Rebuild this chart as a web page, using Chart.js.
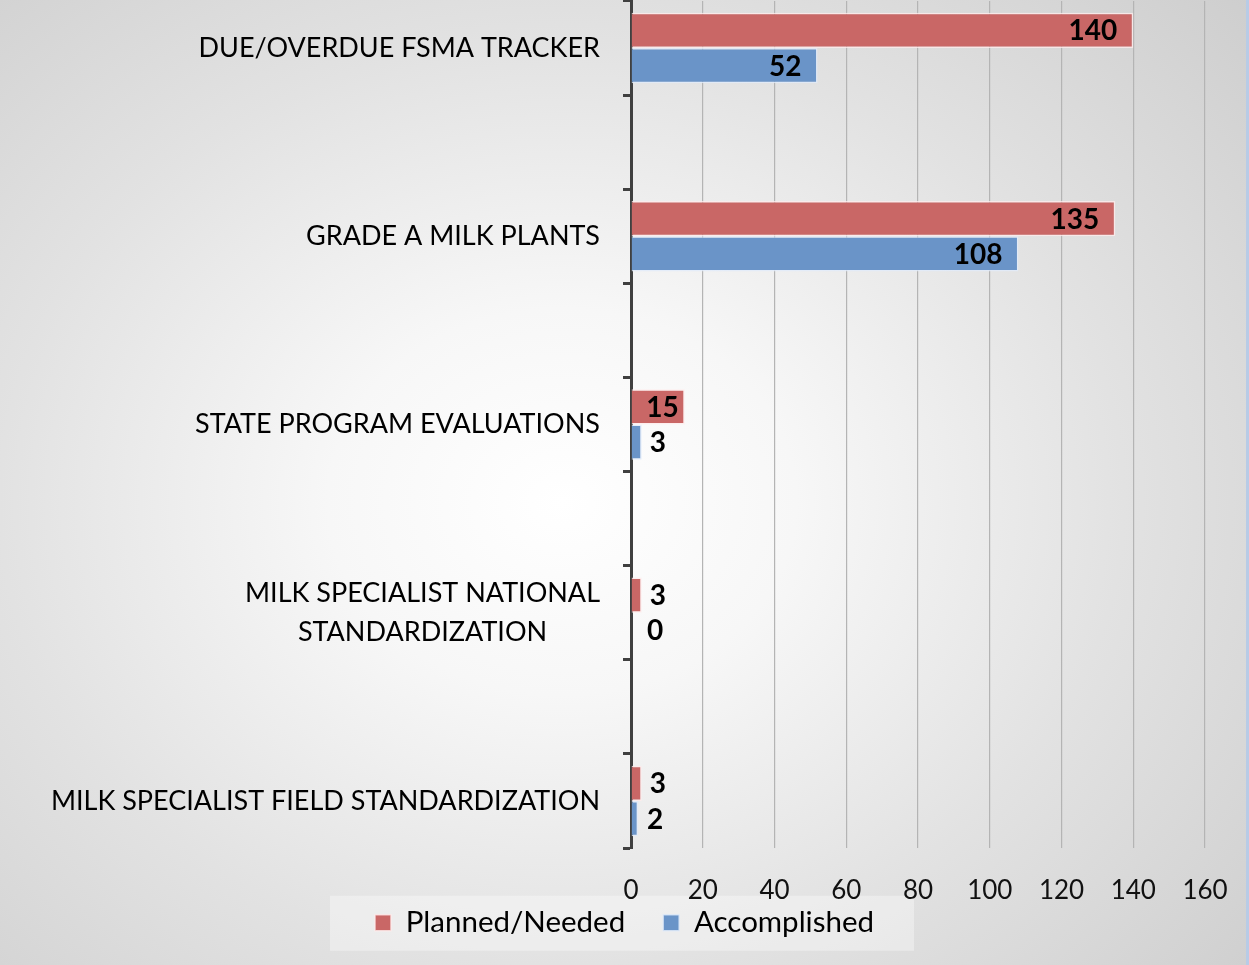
<!DOCTYPE html>
<html>
<head>
<meta charset="utf-8">
<script src="https://cdn.jsdelivr.net/npm/chart.js@4"></script>
<style>
  html, body { margin: 0; padding: 0; }
  body {
    width: 1249px; height: 965px; overflow: hidden; position: relative;
    background: radial-gradient(ellipse 75% 80% at 45% 52%, #ffffff 0%, #f7f7f7 25%, #e2e2e2 60%, #cdcdcd 100%);
  }
  #edge { position: absolute; right: 0; top: 0; width: 3px; height: 965px; background: #b8cbe6; }
  canvas { display: block; }
</style>
</head>
<body>
<canvas id="chart" width="1249" height="965"></canvas>
<div id="edge"></div>
<script>
// categories (blank rows are spacer rows in the original)
const categories = [
  'DUE/OVERDUE FSMA TRACKER', '',
  'GRADE A MILK PLANTS', '',
  'STATE PROGRAM EVALUATIONS', '',
  ['MILK SPECIALIST NATIONAL', 'STANDARDIZATION'], '',
  'MILK SPECIALIST FIELD STANDARDIZATION'
];
const planned = [140, null, 135, null, 15, null, 3, null, 3];
const accomplished = [52, null, 108, null, 3, null, 0, null, 2];
const xTicks = [0, 20, 40, 60, 80, 100, 120, 140, 160];

const FONT = 'Lato, "Open Sans", sans-serif';

// value labels: inside end when they fit, else just past the bar
const valueLabels = {
  id: 'valueLabels',
  afterDatasetsDraw(chart) {
    const ctx = chart.ctx;
    const base = chart.scales.x.getPixelForValue(0);
    ctx.save();
    ctx.font = 'bold 28px ' + FONT;
    ctx.fillStyle = '#000';
    ctx.textBaseline = 'middle';
    chart.data.datasets.forEach((ds, di) => {
      chart.getDatasetMeta(di).data.forEach((bar, i) => {
        const v = ds.data[i];
        if (v === null || v === undefined) return;
        const text = String(v);
        const w = ctx.measureText(text).width;
        const len = bar.x - base;
        if (len >= w + 32) {
          ctx.textAlign = 'right';
          ctx.fillText(text, bar.x - 16, bar.y + 1);
        } else if (len >= w + 10) {
          ctx.textAlign = 'right';
          ctx.fillText(text, bar.x - 6, bar.y + 1);
        } else {
          ctx.textAlign = 'left';
          ctx.fillText(text, Math.max(bar.x + 8, base + 16), bar.y + 1);
        }
      });
    });
    ctx.restore();
  }
};

// category labels: block right-aligned to the axis, lines centred in the block
const categoryLabels = {
  id: 'categoryLabels',
  afterDraw(chart) {
    const ctx = chart.ctx;
    const yScale = chart.scales.y;
    const right = chart.chartArea.left - 31;
    ctx.save();
    ctx.font = '27px ' + FONT;
    ctx.fillStyle = '#000';
    ctx.textAlign = 'center';
    ctx.textBaseline = 'middle';
    categories.forEach((lab, i) => {
      if (!lab) return;
      const lines = [].concat(lab);
      const w = Math.max(...lines.map(l => ctx.measureText(l).width));
      const cx = right - w / 2;
      const cy = yScale.getPixelForTick(i);
      lines.forEach((l, k) => ctx.fillText(l, cx, cy + (k - (lines.length - 1) / 2) * 39));
    });
    ctx.restore();
  }
};

// pull the legend up under the tick labels, centre it on the full width,
// and put a light panel behind it
const legendPanel = {
  id: 'legendPanel',
  afterLayout(chart) {
    const lg = chart.legend;
    lg.top -= 38;
    lg.right = chart.width;
    lg.width = lg.right - lg.left;
  },
  beforeDraw(chart) {
    const lg = chart.legend;
    if (!lg || !lg.legendHitBoxes.length) return;
    const boxes = lg.legendHitBoxes;
    const left = boxes[0].left - 45;
    const right = boxes[boxes.length - 1].left + boxes[boxes.length - 1].width + 40;
    const cy = boxes[0].top + boxes[0].height / 2;
    const ctx = chart.ctx;
    ctx.save();
    ctx.fillStyle = 'rgba(255,255,255,0.35)';
    ctx.fillRect(left, cy - 27, right - left, 55);
    ctx.restore();
  }
};

new Chart(document.getElementById('chart'), {
  type: 'bar',
  data: {
    labels: categories,
    datasets: [
      {
        label: 'Planned/Needed',
        data: planned,
        backgroundColor: '#C96766',
        borderColor: 'rgba(255,235,235,0.8)',
        borderWidth: 1.5,
        categoryPercentage: 0.75,
        barPercentage: 1.0
      },
      {
        label: 'Accomplished',
        data: accomplished,
        backgroundColor: '#6A94C8',
        borderColor: 'rgba(225,235,250,0.8)',
        borderWidth: 1.5,
        categoryPercentage: 0.75,
        barPercentage: 1.0
      }
    ]
  },
  options: {
    indexAxis: 'y',
    responsive: false,
    animation: false,
    layout: { padding: { top: 1, right: 44, bottom: 0, left: 0 } },
    plugins: {
      legend: {
        position: 'bottom',
        maxHeight: 57,
        labels: {
          boxWidth: 16,
          boxHeight: 16,
          padding: 38,
          color: '#000',
          font: { family: FONT, size: 29.5 }
        }
      },
      tooltip: { enabled: false }
    },
    scales: {
      x: {
        min: 0,
        max: 160,
        afterBuildTicks: scale => { scale.ticks = xTicks.map(v => ({ value: v })); },
        afterFit: scale => { scale.height = 60; },
        grid: { color: '#b4b4b4', lineWidth: 1.2, drawTicks: true, tickLength: 24, tickColor: 'rgba(0,0,0,0)' },
        border: { display: false },
        ticks: { padding: 3, color: '#111', font: { family: FONT, size: 26 } }
      },
      y: {
        afterFit: scale => { scale.width = 631; },
        grid: {
          offset: true,
          drawOnChartArea: false,
          drawTicks: true,
          tickLength: 8,
          tickWidth: 3,
          tickColor: '#404040'
        },
        border: { display: true, color: '#404040', width: 3 },
        ticks: { display: false }
      }
    }
  },
  plugins: [legendPanel, valueLabels, categoryLabels]
});
</script>
</body>
</html>
